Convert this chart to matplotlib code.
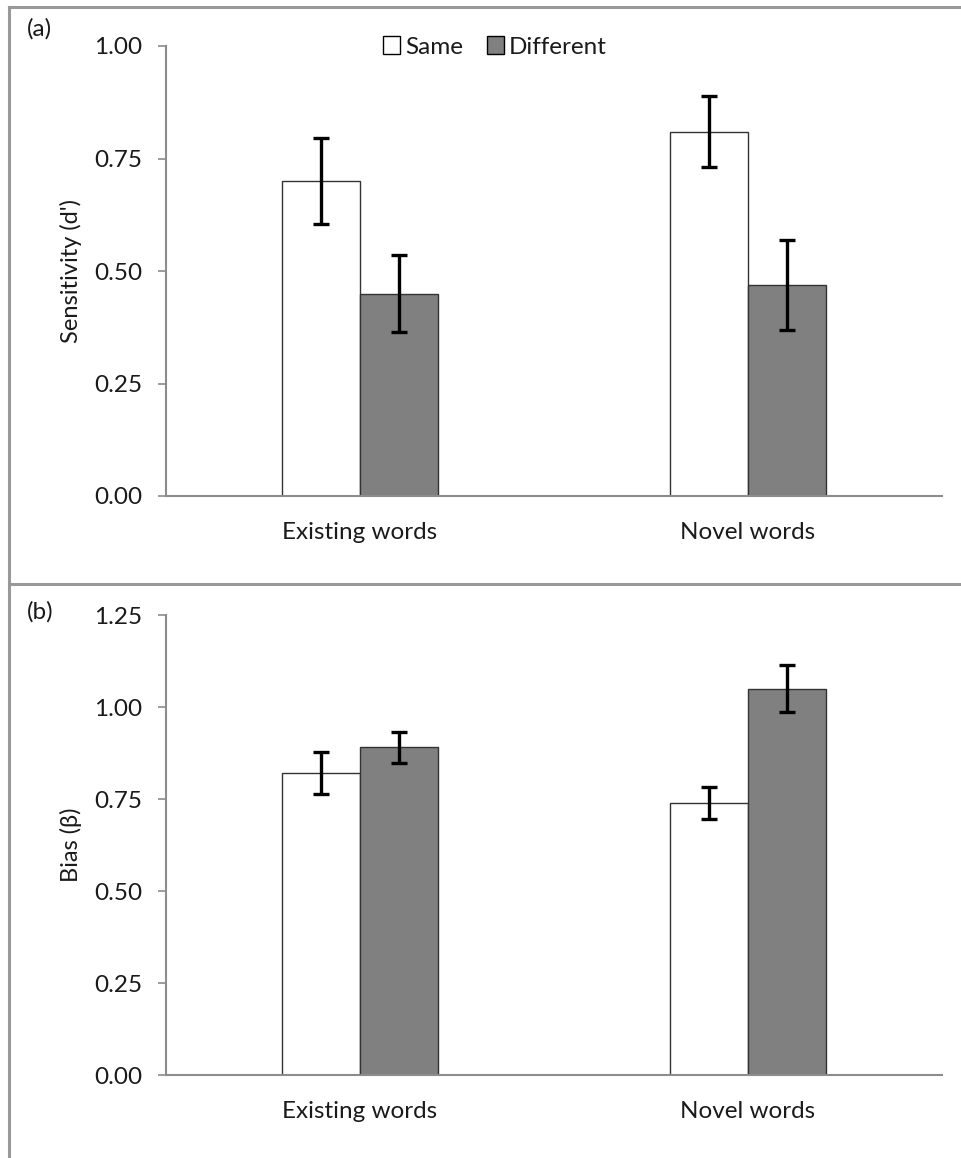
import matplotlib.pyplot as plt
import matplotlib.patches as mpatches
from matplotlib.lines import Line2D
import numpy as np

plt.rcParams["font.family"] = ["Lato", "DejaVu Sans"]

W, H = 961, 1158
DPI = 100

categories = ["Existing words", "Novel words"]
conditions = ["Same", "Different"]

# (a) sensitivity d'
dprime_same = [0.70, 0.81]
dprime_same_err = [0.095, 0.078]
dprime_diff = [0.45, 0.47]
dprime_diff_err = [0.085, 0.10]

# (b) bias beta
beta_same = [0.82, 0.74]
beta_same_err = [0.057, 0.043]
beta_diff = [0.89, 1.05]
beta_diff_err = [0.042, 0.063]

a_ticks = [0.0, 0.25, 0.50, 0.75, 1.00]
b_ticks = [0.0, 0.25, 0.50, 0.75, 1.00, 1.25]

AXIS_GREY = "#8c8c8c"
FILL_DIFF = "#808080"
TXT = "#1a1a1a"
FS = 17.5


def px_box(x0, y_top, x1, y_bot):
    return [x0 / W, 1 - y_bot / H, (x1 - x0) / W, (y_bot - y_top) / H]


def draw_panel(ax, same, same_err, diff, diff_err, ticks, ylabel):
    x = np.arange(len(categories))
    width = 0.2
    ekw = dict(ecolor="black", elinewidth=2.4, capsize=6, capthick=2.4)
    ax.bar(x - width / 2, same, width, color="white", edgecolor="#333333",
           linewidth=1.0, yerr=same_err, error_kw=ekw, label=conditions[0])
    ax.bar(x + width / 2, diff, width, color=FILL_DIFF, edgecolor="#333333",
           linewidth=1.0, yerr=diff_err, error_kw=ekw, label=conditions[1])
    ax.set_xlim(-0.5, len(categories) - 0.5)
    ax.set_ylim(ticks[0], ticks[-1])
    ax.set_yticks(ticks)
    ax.set_yticklabels([f"{t:.2f}" for t in ticks])
    ax.set_xticks(x)
    ax.set_xticklabels(categories)
    for side in ("top", "right"):
        ax.spines[side].set_visible(False)
    for side in ("left", "bottom"):
        ax.spines[side].set_color(AXIS_GREY)
        ax.spines[side].set_linewidth(1.5)
    ax.tick_params(axis="y", direction="out", length=6, width=1.2,
                   color=AXIS_GREY, pad=11, labelsize=FS, labelcolor=TXT)
    ax.tick_params(axis="x", length=0, pad=19, labelsize=FS, labelcolor=TXT)
    ax.set_ylabel(ylabel, fontsize=FS - 0.5, color=TXT, labelpad=9)


fig = plt.figure(figsize=(W / DPI, H / DPI), dpi=DPI)

ax_a = fig.add_axes(px_box(166, 46, 942, 496))
draw_panel(ax_a, dprime_same, dprime_same_err, dprime_diff, dprime_diff_err,
           a_ticks, "Sensitivity (d')")

ax_b = fig.add_axes(px_box(166, 615, 942, 1075))
draw_panel(ax_b, beta_same, beta_same_err, beta_diff, beta_diff_err,
           b_ticks, "Bias (β)")

handles = [
    mpatches.Patch(facecolor="white", edgecolor="black", linewidth=1.0,
                   label=conditions[0]),
    mpatches.Patch(facecolor=FILL_DIFF, edgecolor="black", linewidth=1.0,
                   label=conditions[1]),
]
fig.legend(handles=handles, loc="center", bbox_to_anchor=(495 / W, 1 - 47 / H),
           ncol=2, frameon=False, fontsize=FS, handlelength=0.7,
           handleheight=0.7, handletextpad=0.2, columnspacing=1.0,
           labelcolor=TXT)

fig.text(27 / W, 1 - 29 / H, "(a)", fontsize=FS, va="center", ha="left",
         color=TXT)
fig.text(27 / W, 1 - 612 / H, "(b)", fontsize=FS, va="center", ha="left",
         color=TXT)

# frame lines around the two panels
border = dict(color="#999999", linewidth=2.2, transform=fig.transFigure)
fig.add_artist(Line2D([9 / W, 1], [1 - 7 / H, 1 - 7 / H], **border))
fig.add_artist(Line2D([9 / W, 9 / W], [0, 1 - 7 / H], **border))
fig.add_artist(Line2D([9 / W, 1], [1 - 584 / H, 1 - 584 / H], **border))

fig.savefig("out.png", dpi=DPI)
